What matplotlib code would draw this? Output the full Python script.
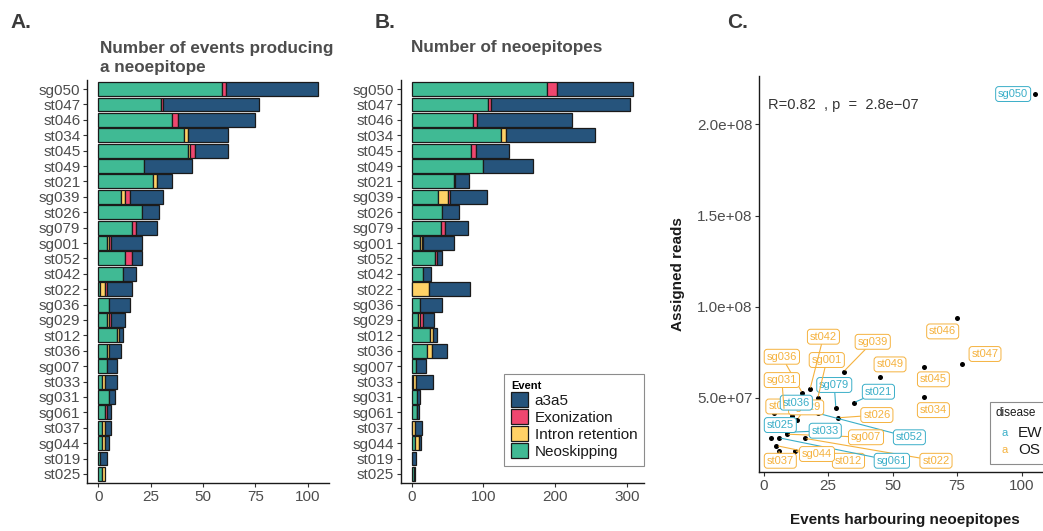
import matplotlib
matplotlib.use("Agg")
import matplotlib.pyplot as plt
from matplotlib.patches import Patch, Rectangle
import numpy as np

plt.rcParams['font.family'] = ['Liberation Sans', 'DejaVu Sans']

# ---------------------------------------------------------------- data
samples = ['sg050', 'st047', 'st046', 'st034', 'st045', 'st049', 'st021',
           'sg039', 'st026', 'sg079', 'sg001', 'st052', 'st042', 'st022',
           'sg036', 'sg029', 'st012', 'st036', 'sg007', 'st033', 'sg031',
           'sg061', 'st037', 'sg044', 'st019', 'st025']

# events producing a neoepitope, per event type
ev_neoskipping = [59, 30, 35, 41, 43, 22, 26, 11, 21, 16, 4, 13, 12, 1,
                  5, 4, 9, 4, 4, 2, 5, 3, 2, 2, 1, 2]
ev_intron = [0, 0, 0, 2, 1, 0, 2, 2, 0, 0, 1, 0, 0, 2,
             0, 1, 1, 1, 0, 1, 0, 0, 1, 1, 0, 1]
ev_exonization = [2, 1, 3, 0, 2, 0, 0, 2, 0, 2, 1, 3, 0, 1,
                  0, 1, 0, 0, 0, 0, 0, 1, 0, 0, 0, 0]
ev_a3a5 = [44, 46, 37, 19, 16, 23, 7, 16, 8, 10, 15, 5, 6, 12,
           10, 7, 2, 6, 5, 6, 3, 2, 3, 2, 3, 0]

# number of neoepitopes, per event type
ne_neoskipping = [189, 107, 86, 124, 83, 99, 59, 37, 42, 41, 11, 32, 16, 1,
                  11, 9, 26, 21, 6, 2, 8, 7, 1, 5, 0, 3]
ne_intron = [0, 0, 0, 8, 0, 0, 2, 13, 0, 0, 3, 0, 0, 23,
             0, 3, 3, 7, 0, 4, 0, 0, 3, 5, 0, 1]
ne_exonization = [13, 3, 5, 0, 7, 0, 0, 3, 0, 5, 2, 3, 0, 0,
                  0, 4, 0, 0, 0, 0, 0, 1, 0, 0, 0, 0]
ne_a3a5 = [106, 195, 132, 124, 45, 70, 19, 52, 24, 32, 43, 7, 11, 57,
           31, 15, 6, 21, 14, 23, 3, 2, 10, 3, 6, 0]

# assigned reads per sample and disease group
assigned_reads = [2.168e8, 0.685e8, 0.936e8, 0.505e8, 0.670e8, 0.615e8, 0.473e8,
                  0.643e8, 0.390e8, 0.445e8, 0.497e8, 0.415e8, 0.546e8, 0.277e8,
                  0.527e8, 0.380e8, 0.207e8, 0.400e8, 0.300e8, 0.310e8, 0.430e8,
                  0.280e8, 0.205e8, 0.237e8, 0.414e8, 0.280e8]
disease = ['EW', 'OS', 'OS', 'OS', 'OS', 'OS', 'EW', 'OS', 'OS', 'EW', 'OS', 'EW',
           'OS', 'OS', 'OS', 'OS', 'OS', 'EW', 'OS', 'EW', 'OS', 'EW', 'OS', 'OS',
           'OS', 'EW']

corr_text = 'R=0.82  , p  =  2.8e\u221207'

# ---------------------------------------------------------------- styles
event_colors = {'a3a5': '#26547C', 'Exonization': '#EF476F',
                'Intron retention': '#FFD166', 'Neoskipping': '#40BA94'}
disease_colors = {'EW': '#3AAEC8', 'OS': '#F5B23E'}
TXT = '#4D4D4D'
AX = '#1A1A1A'

# label placement for the scatter (data coordinates)
label_xy = {
    'sg050': (96.7, 2.167e8), 'st046': (69.4, 0.864e8), 'st047': (85.8, 0.740e8),
    'st045': (65.8, 0.601e8), 'st034': (65.8, 0.432e8), 'st049': (49.0, 0.683e8),
    'sg039': (42.3, 0.807e8), 'st042': (23.2, 0.835e8), 'sg001': (24.5, 0.707e8),
    'sg036': (7.1, 0.725e8), 'sg031': (7.1, 0.597e8), 'sg079': (27.4, 0.570e8),
    'st021': (44.5, 0.533e8), 'st036': (12.7, 0.473e8), 'st019': (7.1, 0.452e8),
    'sg029': (16.5, 0.447e8), 'st026': (43.9, 0.405e8), 'st025': (6.5, 0.350e8),
    'st033': (23.9, 0.319e8), 'sg007': (39.7, 0.283e8), 'st052': (56.5, 0.283e8),
    'sg044': (20.7, 0.191e8), 'st037': (6.5, 0.154e8), 'st012': (32.9, 0.154e8),
    'sg061': (49.7, 0.154e8), 'st022': (66.8, 0.154e8),
}
with_segment = {'sg039', 'st042', 'sg001', 'sg036', 'sg031', 'sg079', 'st021',
                'sg029', 'st026', 'st033', 'sg007', 'st052', 'sg044', 'st037',
                'st012', 'sg061', 'st022'}
label_order = ['st019'] + [s for s in samples if s != 'st019']

W, H = 1043, 531
fig = plt.figure(figsize=(W / 100, H / 100), dpi=100)


def px_axes(left, top, right, bottom):
    return fig.add_axes([left / W, 1 - bottom / H, (right - left) / W, (bottom - top) / H])


def style_axes(ax):
    for s in ('top', 'right'):
        ax.spines[s].set_visible(False)
    for s in ('left', 'bottom'):
        ax.spines[s].set_color(AX)
        ax.spines[s].set_linewidth(1.0)
    ax.tick_params(axis='both', colors='#333333', labelcolor=TXT,
                   labelsize=11, length=3, width=0.8, pad=2)


def stacked(ax, parts):
    y = np.arange(len(samples))
    left = np.zeros(len(samples))
    for name, vals in parts:
        vals = np.asarray(vals, float)
        m = vals > 0
        ax.barh(y[m], vals[m], left=left[m], height=0.9,
                color=event_colors[name], edgecolor=AX, linewidth=0.9, zorder=2)
        left += vals
    ax.set_ylim(len(samples) - 0.4, -0.6)
    ax.set_yticks(y)
    ax.set_yticklabels(samples)
    style_axes(ax)


# ---------------------------------------------------------------- panel A
ax_a = px_axes(87.3, 79.8, 329, 483.2)
stacked(ax_a, [('Neoskipping', ev_neoskipping), ('Intron retention', ev_intron),
               ('Exonization', ev_exonization), ('a3a5', ev_a3a5)])
ax_a.set_xlim(-5.25, 110.25)
ax_a.set_xticks([0, 25, 50, 75, 100])

# ---------------------------------------------------------------- panel B
ax_b = px_axes(400.7, 79.8, 643.6, 483.2)
stacked(ax_b, [('Neoskipping', ne_neoskipping), ('Intron retention', ne_intron),
               ('Exonization', ne_exonization), ('a3a5', ne_a3a5)])
ax_b.set_xlim(-15.4, 323.4)
ax_b.set_xticks([0, 100, 200, 300])

handles = [Patch(facecolor=event_colors[n], edgecolor=AX, linewidth=0.9, label=n)
           for n in ['a3a5', 'Exonization', 'Intron retention', 'Neoskipping']]
leg = ax_b.legend(handles=handles, title='Event', loc='upper left',
                  bbox_to_anchor=(504 / W, 1 - 374 / H), bbox_transform=fig.transFigure,
                  borderaxespad=0, fontsize=11, title_fontsize=8, frameon=True,
                  fancybox=False, framealpha=1, handlelength=1.15, handleheight=1.15,
                  handletextpad=0.4, labelspacing=0.08, borderpad=0.45)
leg.get_title().set_fontweight('bold')
leg._legend_box.align = 'left'
leg.get_frame().set_edgecolor('#8C8C8C')
leg.get_frame().set_linewidth(0.8)
for t in leg.get_texts():
    t.set_color('#1A1A1A')

# ---------------------------------------------------------------- panel C
x_events = (np.array(ev_neoskipping) + np.array(ev_intron)
            + np.array(ev_exonization) + np.array(ev_a3a5))
reads = np.array(assigned_reads)

ax_c = px_axes(759.4, 76, 1050.6, 471.7)
style_axes(ax_c)
ax_c.set_xlim(-1.6, 111.2)
ax_c.set_ylim(0.094e8, 2.266e8)
ax_c.set_xticks([0, 25, 50, 75, 100])
ax_c.set_yticks([0.5e8, 1.0e8, 1.5e8, 2.0e8])
ax_c.set_yticklabels(['5.0e+07', '1.0e+08', '1.5e+08', '2.0e+08'])
ax_c.scatter(x_events, reads, s=13, color='black', zorder=2, linewidths=0)

idx = {s: i for i, s in enumerate(samples)}
for z, name in enumerate(label_order):
    i = idx[name]
    col = disease_colors[disease[i]]
    lx, ly = label_xy[name]
    bbox = dict(boxstyle='round,pad=0.22,rounding_size=0.28', fc='white', ec=col, lw=0.7)
    arrow = None
    if name in with_segment:
        arrow = dict(arrowstyle='-', color=col, lw=0.8, shrinkA=0, shrinkB=1.5)
    ax_c.annotate(name, xy=(x_events[i], reads[i]), xytext=(lx, ly),
                  textcoords='data', ha='center', va='center', fontsize=8,
                  color=col, bbox=bbox, arrowprops=arrow, zorder=3 + z * 0.01,
                  annotation_clip=False)

ax_c.text(1.9, 2.106e8, corr_text, fontsize=10.5, color='#333333',
          ha='left', va='center')

fig.text(678 / W, 1 - 274 / H, 'Assigned reads', rotation=90, ha='center',
         va='center', fontsize=11, fontweight='bold', color='#1A1A1A')
fig.text(905 / W, 1 - 520 / H, 'Events harbouring neoepitopes', ha='center',
         va='center', fontsize=11, fontweight='bold', color='#1A1A1A')

# disease legend box
fig.patches.append(Rectangle((990 / W, 1 - 464 / H), 80 / W, 62.3 / H,
                             transform=fig.transFigure, facecolor='white',
                             edgecolor='#8C8C8C', linewidth=0.8, zorder=5))
fig.text(996 / W, 1 - 412.7 / H, 'disease', fontsize=8.5, color='#1A1A1A',
         ha='left', va='center', zorder=6)
for name, yy in (('EW', 432.7), ('OS', 450.0)):
    fig.text(1004.3 / W, 1 - yy / H, 'a', fontsize=8, color=disease_colors[name],
             ha='center', va='center', zorder=6)
    fig.text(1018 / W, 1 - yy / H, name, fontsize=11, color='#1A1A1A',
             ha='left', va='center', zorder=6)

# ---------------------------------------------------------------- titles
TAG = '#3A3A3A'
fig.text(10 / W, 1 - 28 / H, 'A.', fontsize=15, fontweight='bold', color=TAG, va='baseline')
fig.text(375 / W, 1 - 28 / H, 'B.', fontsize=15, fontweight='bold', color=TAG, va='baseline')
fig.text(727 / W, 1 - 28 / H, 'C.', fontsize=15, fontweight='bold', color=TAG, va='baseline')
fig.text(100 / W, 1 - 53 / H, 'Number of events producing', fontsize=12.3,
         fontweight='bold', color=TXT, va='baseline')
fig.text(100 / W, 1 - 72 / H, 'a neoepitope', fontsize=12.3,
         fontweight='bold', color=TXT, va='baseline')
fig.text(411 / W, 1 - 52 / H, 'Number of neoepitopes', fontsize=12.3,
         fontweight='bold', color=TXT, va='baseline')

fig.savefig('out.png', dpi=100)
